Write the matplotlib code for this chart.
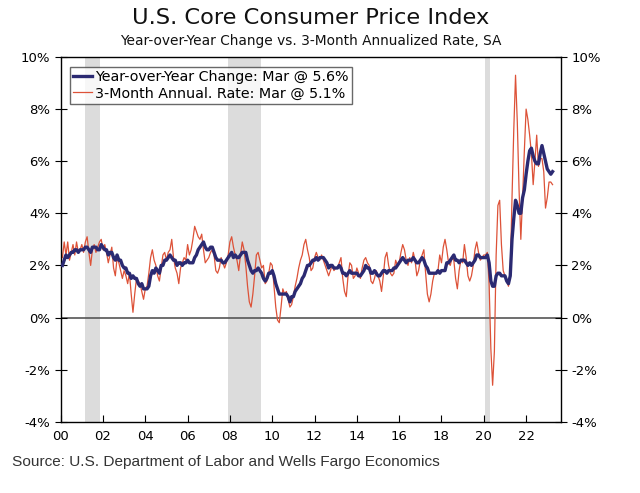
import numpy as np
import matplotlib
matplotlib.use("Agg")
import matplotlib.pyplot as plt

# core CPI, monthly from Jan 2000 to Mar 2023
yoy = [
    2.0, 2.2, 2.4, 2.3, 2.4, 2.5, 2.5, 2.6, 2.6, 2.5, 2.6, 2.6,  # 2000
    2.6, 2.7, 2.7, 2.6, 2.5, 2.7, 2.7, 2.7, 2.6, 2.6, 2.8, 2.7,  # 2001
    2.6, 2.6, 2.4, 2.5, 2.5, 2.3, 2.2, 2.4, 2.2, 2.2, 2.0, 1.9,  # 2002
    1.9, 1.7, 1.7, 1.5, 1.6, 1.5, 1.5, 1.3, 1.2, 1.3, 1.1, 1.1,  # 2003
    1.1, 1.2, 1.6, 1.8, 1.7, 1.9, 1.8, 1.7, 2.0, 2.0, 2.2, 2.2,  # 2004
    2.3, 2.4, 2.3, 2.2, 2.2, 2.0, 2.1, 2.1, 2.0, 2.1, 2.1, 2.2,  # 2005
    2.1, 2.1, 2.1, 2.3, 2.4, 2.6, 2.7, 2.8, 2.9, 2.7, 2.6, 2.6,  # 2006
    2.7, 2.7, 2.5, 2.3, 2.2, 2.2, 2.2, 2.1, 2.1, 2.2, 2.3, 2.4,  # 2007
    2.5, 2.3, 2.4, 2.3, 2.3, 2.4, 2.5, 2.5, 2.5, 2.2, 2.0, 1.8,  # 2008
    1.7, 1.8, 1.8, 1.9, 1.8, 1.7, 1.5, 1.4, 1.5, 1.7, 1.7, 1.8,  # 2009
    1.6, 1.3, 1.1, 0.9, 0.9, 0.9, 0.9, 0.9, 0.8, 0.6, 0.8, 0.8,  # 2010
    1.0, 1.1, 1.2, 1.3, 1.5, 1.6, 1.8, 2.0, 2.0, 2.1, 2.2, 2.2,  # 2011
    2.3, 2.2, 2.3, 2.3, 2.3, 2.2, 2.1, 1.9, 2.0, 2.0, 1.9, 1.9,  # 2012
    1.9, 2.0, 1.9, 1.7, 1.7, 1.6, 1.7, 1.8, 1.7, 1.7, 1.7, 1.7,  # 2013
    1.6, 1.6, 1.7, 1.8, 2.0, 1.9, 1.9, 1.7, 1.7, 1.8, 1.7, 1.6,  # 2014
    1.6, 1.7, 1.8, 1.8, 1.7, 1.8, 1.8, 1.8, 1.9, 1.9, 2.0, 2.1,  # 2015
    2.2, 2.3, 2.2, 2.1, 2.2, 2.2, 2.2, 2.3, 2.2, 2.1, 2.1, 2.2,  # 2016
    2.3, 2.2, 2.0, 1.9, 1.7, 1.7, 1.7, 1.7, 1.7, 1.8, 1.7, 1.8,  # 2017
    1.8, 1.8, 2.1, 2.1, 2.2, 2.3, 2.4, 2.2, 2.2, 2.1, 2.2, 2.2,  # 2018
    2.2, 2.1, 2.0, 2.1, 2.0, 2.1, 2.2, 2.4, 2.4, 2.3, 2.3, 2.3,  # 2019
    2.3, 2.4, 2.1, 1.4, 1.2, 1.2, 1.6, 1.7, 1.7, 1.6, 1.6, 1.6,  # 2020
    1.4, 1.3, 1.6, 3.0, 3.8, 4.5, 4.3, 4.0, 4.0, 4.6, 4.9, 5.5,  # 2021
    6.0, 6.4, 6.5, 6.2, 6.0, 5.9, 5.9, 6.3, 6.6, 6.3, 6.0, 5.7,  # 2022
    5.6, 5.5, 5.6,                                               # 2023
]

three_month = [
    2.3, 2.9, 2.4, 2.9, 2.2, 2.5, 2.8, 2.4, 2.9, 2.5, 2.6, 2.8,  # 2000
    2.5, 2.9, 3.1, 2.5, 2.0, 2.6, 2.8, 2.5, 2.7, 2.9, 3.0, 2.6,  # 2001
    2.8, 2.5, 2.1, 2.4, 2.7, 1.9, 1.6, 2.3, 2.1, 1.8, 1.5, 1.8,  # 2002
    1.6, 1.3, 1.7, 0.9, 0.2, 0.9, 1.5, 1.4, 1.3, 1.0, 0.7, 1.1,  # 2003
    1.2, 1.7, 2.3, 2.6, 2.2, 2.0, 1.6, 1.4, 1.9, 2.4, 2.5, 2.2,  # 2004
    2.5, 2.6, 3.0, 2.3, 1.9, 1.7, 1.3, 1.9, 2.1, 2.3, 2.2, 2.8,  # 2005
    2.4, 2.6, 3.0, 3.5, 3.3, 3.1, 3.0, 3.2, 2.6, 2.1, 2.2, 2.3,  # 2006
    2.5, 2.6, 2.4, 1.8, 1.7, 1.9, 2.3, 2.1, 1.9, 2.1, 2.4, 2.9,  # 2007
    3.1, 2.7, 2.4, 2.2, 1.8, 2.4, 2.9, 2.6, 2.0, 1.2, 0.6, 0.4,  # 2008
    0.9, 1.6, 2.4, 2.5, 2.2, 1.9, 2.0, 1.3, 1.4, 1.7, 2.1, 2.0,  # 2009
    1.2, 0.4, -0.1, -0.2, 0.4, 1.1, 0.9, 1.0, 0.7, 0.4, 0.5, 0.8,  # 2010
    1.2, 1.5, 1.9, 2.2, 2.4, 2.8, 3.0, 2.6, 2.3, 1.8, 1.9, 2.3,  # 2011
    2.5, 2.3, 2.2, 2.4, 2.2, 2.0, 1.8, 1.6, 1.8, 2.0, 1.8, 1.9,  # 2012
    1.9, 2.1, 2.3, 1.5, 1.0, 0.8, 1.6, 2.1, 2.0, 1.5, 1.6, 1.9,  # 2013
    1.7, 1.5, 1.9, 2.2, 2.3, 2.1, 2.0, 1.4, 1.3, 1.5, 1.8, 1.6,  # 2014
    1.4, 1.0, 1.6, 2.3, 2.5, 2.0, 1.7, 1.6, 1.7, 2.2, 2.0, 2.1,  # 2015
    2.5, 2.8, 2.6, 2.2, 2.0, 2.3, 2.1, 2.5, 2.2, 1.6, 1.8, 2.2,  # 2016
    2.4, 2.6, 1.7, 0.9, 0.6, 0.9, 1.4, 1.7, 1.7, 1.8, 2.4, 2.1,  # 2017
    2.7, 3.0, 2.6, 2.1, 2.0, 2.3, 2.2, 1.5, 1.1, 1.8, 2.2, 2.1,  # 2018
    2.8, 2.3, 1.6, 1.4, 1.6, 2.0, 2.6, 2.9, 2.5, 2.2, 2.3, 2.4,  # 2019
    2.4, 2.5, 1.3, -1.2, -2.6, -1.3, 2.4, 4.3, 4.5, 2.8, 1.8, 1.6,  # 2020
    1.4, 1.2, 1.7, 4.6, 7.2, 9.3, 7.5, 4.9, 3.0, 4.6, 6.4, 8.0,  # 2021
    7.6, 7.0, 6.3, 5.1, 6.0, 7.0, 5.8, 6.1, 6.1, 5.6, 4.2, 4.6,  # 2022
    5.2, 5.2, 5.1,                                               # 2023
]

# recessions (start, end) in decimal years
recessions = [(2001.17, 2001.88), (2007.92, 2009.45), (2020.08, 2020.30)]

yticks = [-4, -2, 0, 2, 4, 6, 8, 10]
xticks = list(range(2000, 2023, 2))
xlabels = ["%02d" % (y % 100) for y in xticks]

navy = "#2B2A72"
red = "#DD5238"

t = 2000 + (np.arange(len(yoy)) + 1) / 12.0

fig = plt.figure(figsize=(6.4, 4.93), dpi=100)
ax = fig.add_axes([0.0948, 0.1446, 0.7818, 0.7398])

for start, end in recessions:
    ax.axvspan(start, end, color="#DCDCDC", lw=0, zorder=0)

ax.axhline(0, color="#555555", lw=1.2, zorder=1)
ax.plot(t, three_month, color=red, lw=0.9, zorder=2,
        label="3-Month Annual. Rate: Mar @ 5.1%")
ax.plot(t, yoy, color=navy, lw=2.4, zorder=3,
        label="Year-over-Year Change: Mar @ 5.6%")

ax.set_xlim(2000, 2023.65)
ax.set_ylim(-4, 10)
ax.set_xticks(xticks)
ax.set_xticklabels(xlabels)
ax.set_yticks(yticks)
ax.set_yticklabels(["%d%%" % v for v in yticks])
ax.tick_params(axis="x", direction="in", length=5, labelsize=9.5, pad=6)
ax.tick_params(axis="y", direction="inout", length=8, labelsize=9.5,
               left=True, right=True, labelleft=True, labelright=True)
for s in ax.spines.values():
    s.set_color("black")
    s.set_linewidth(1.0)

h, l = ax.get_legend_handles_labels()
leg = ax.legend(h[::-1], l[::-1], loc="upper left", bbox_to_anchor=(0.004, 0.993),
                fontsize=10.3, frameon=True, fancybox=False, handlelength=1.3,
                handletextpad=0.2, borderpad=0.25, labelspacing=0.15)
leg.get_frame().set_edgecolor("#444444")
leg.get_frame().set_linewidth(1.0)

fig.text(0.485, 1 - 18 / 493, "U.S. Core Consumer Price Index", ha="center",
         va="center", fontsize=16.2, color="#111111")
fig.text(0.485, 1 - 41 / 493, "Year-over-Year Change vs. 3-Month Annualized Rate, SA",
         ha="center", va="center", fontsize=9.9, color="#111111")
fig.text(12 / 640, 1 - 462 / 493, "Source: U.S. Department of Labor and Wells Fargo Economics",
         ha="left", va="center", fontsize=11.1, family="Liberation Sans", color="#333333")

fig.savefig("out.png", dpi=100)
